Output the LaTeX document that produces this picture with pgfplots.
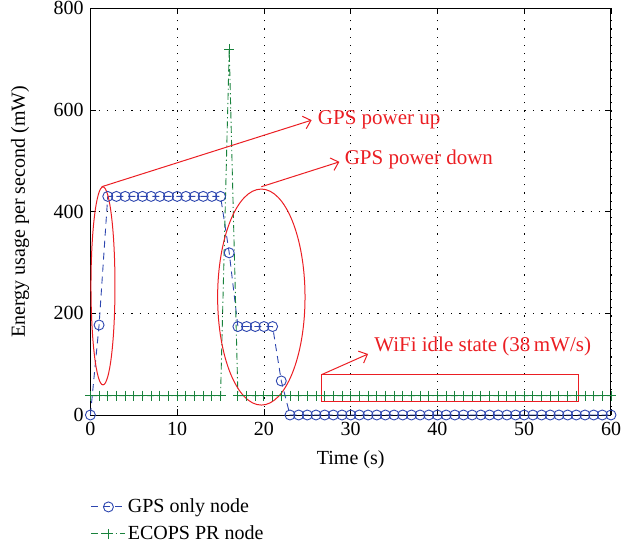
\documentclass[border=0pt]{standalone}
\usepackage{pgfplots}
\pgfplotsset{compat=1.18}
\usepackage{fontspec}
\setmainfont{Liberation Serif}
\usetikzlibrary{arrows.meta}
\definecolor{gpsblue}{RGB}{45,70,175}
\definecolor{ecgreen}{RGB}{25,130,60}
\definecolor{annred}{RGB}{235,30,35}
\begin{document}
\begin{tikzpicture}
\fontsize{20bp}{24bp}\selectfont
\begin{axis}[
  at={(0,0)}, anchor=south west,
  scale only axis, width=520.6bp, height=406.7bp,
  xmin=0, xmax=60, ymin=0, ymax=800,
  xtick={0,10,...,60}, ytick={0,200,...,800},
  tick align=inside, major tick length=6bp,
  axis line style={line width=1bp},
  every tick/.style={black, line width=0.8bp},
  grid=major,
  major grid style={black, line width=0.8bp, dash pattern=on 1.2bp off 7bp},
  /pgf/number format/assume math mode=true,
  tick label style={font=\fontsize{20bp}{24bp}\selectfont},
  label style={font=\fontsize{20.5bp}{24bp}\selectfont},
  xlabel={Time (s)}, ylabel={Energy usage per second (mW)},
  every axis x label/.style={at={(axis description cs:0.5,-0.111)}, anchor=center},
  every axis y label/.style={at={(axis description cs:-0.135,0.5)}, rotate=90, anchor=center},
  clip=false,
  legend cell align=left,
  legend style={at={(axis description cs:-0.005,-0.195)}, anchor=north west, draw=none, fill=none,
    font=\fontsize{20bp}{24bp}\selectfont, row sep=6bp},
  legend image code/.code={\draw[mark repeat=2,mark phase=2] plot coordinates {(0bp,0bp)(17bp,0bp)(34bp,0bp)};},
]
\addplot[gpsblue, line width=0.9bp, dash pattern=on 7bp off 5bp, mark=o, mark size=5bp,
  mark options={solid, line width=0.9bp}] coordinates {
(0,0)(1,177)(2,430)(3,430)(4,430)(5,430)(6,430)(7,430)(8,430)(9,430)(10,430)
(11,430)(12,430)(13,430)(14,430)(15,430)(16,319)(17,174)(18,174)(19,174)(20,174)
(21,174)(22,67)(23,0)(24,0)(25,0)(26,0)(27,0)(28,0)(29,0)(30,0)
(31,0)(32,0)(33,0)(34,0)(35,0)(36,0)(37,0)(38,0)(39,0)(40,0)
(41,0)(42,0)(43,0)(44,0)(45,0)(46,0)(47,0)(48,0)(49,0)(50,0)
(51,0)(52,0)(53,0)(54,0)(55,0)(56,0)(57,0)(58,0)(59,0)(60,0)};
\addlegendentry{GPS only node}
\addplot[ecgreen, line width=0.9bp, dash pattern=on 7bp off 3bp on 1.2bp off 3bp, mark=+, mark size=5bp,
  mark options={solid, line width=0.9bp}] coordinates {
(0,38)(1,38)(2,38)(3,38)(4,38)(5,38)(6,38)(7,38)(8,38)(9,38)(10,38)
(11,38)(12,38)(13,38)(14,38)(15,38)(16,720)(17,38)(18,38)(19,38)(20,38)
(21,38)(22,38)(23,38)(24,38)(25,38)(26,38)(27,38)(28,38)(29,38)(30,38)
(31,38)(32,38)(33,38)(34,38)(35,38)(36,38)(37,38)(38,38)(39,38)(40,38)
(41,38)(42,38)(43,38)(44,38)(45,38)(46,38)(47,38)(48,38)(49,38)(50,38)
(51,38)(52,38)(53,38)(54,38)(55,38)(56,38)(57,38)(58,38)(59,38)(60,38)};
\addlegendentry{ECOPS PR node}
% annotations
\draw[annred, line width=1bp] (axis cs:1.45,254) ellipse [x radius=12bp, y radius=99bp];
\draw[annred, line width=1bp] (axis cs:19.7,232) ellipse [x radius=43.7bp, y radius=108bp];
\draw[annred, line width=1bp] (axis cs:26.6,27.5) rectangle (axis cs:56.3,79);
\draw[annred, line width=1bp, -{Straight Barb[length=7bp,width=13bp]}] (axis cs:1.3,449) -- (axis cs:25.5,580);
\draw[annred, line width=1bp, -{Straight Barb[length=7bp,width=13bp]}] (axis cs:19.7,449) -- (axis cs:28.7,498);
\draw[annred, line width=1bp, -{Straight Barb[length=7bp,width=13bp]}] (axis cs:26.6,79) -- (axis cs:32.0,120);
\node[annred, anchor=west, inner sep=0pt, font=\fontsize{21bp}{25bp}\selectfont] at (axis cs:26.2,580) {GPS power up};
\node[annred, anchor=west, inner sep=0pt, font=\fontsize{21bp}{25bp}\selectfont] at (axis cs:29.3,503) {GPS power down};
\node[annred, anchor=west, inner sep=0pt, font=\fontsize{21bp}{25bp}\selectfont] at (axis cs:32.7,134) {WiFi idle state (38\,mW/s)};
\end{axis}
\pgfresetboundingbox
\path[use as bounding box] (-90.4bp,-133bp) rectangle (543.6bp,415bp);
\end{tikzpicture}
\end{document}
